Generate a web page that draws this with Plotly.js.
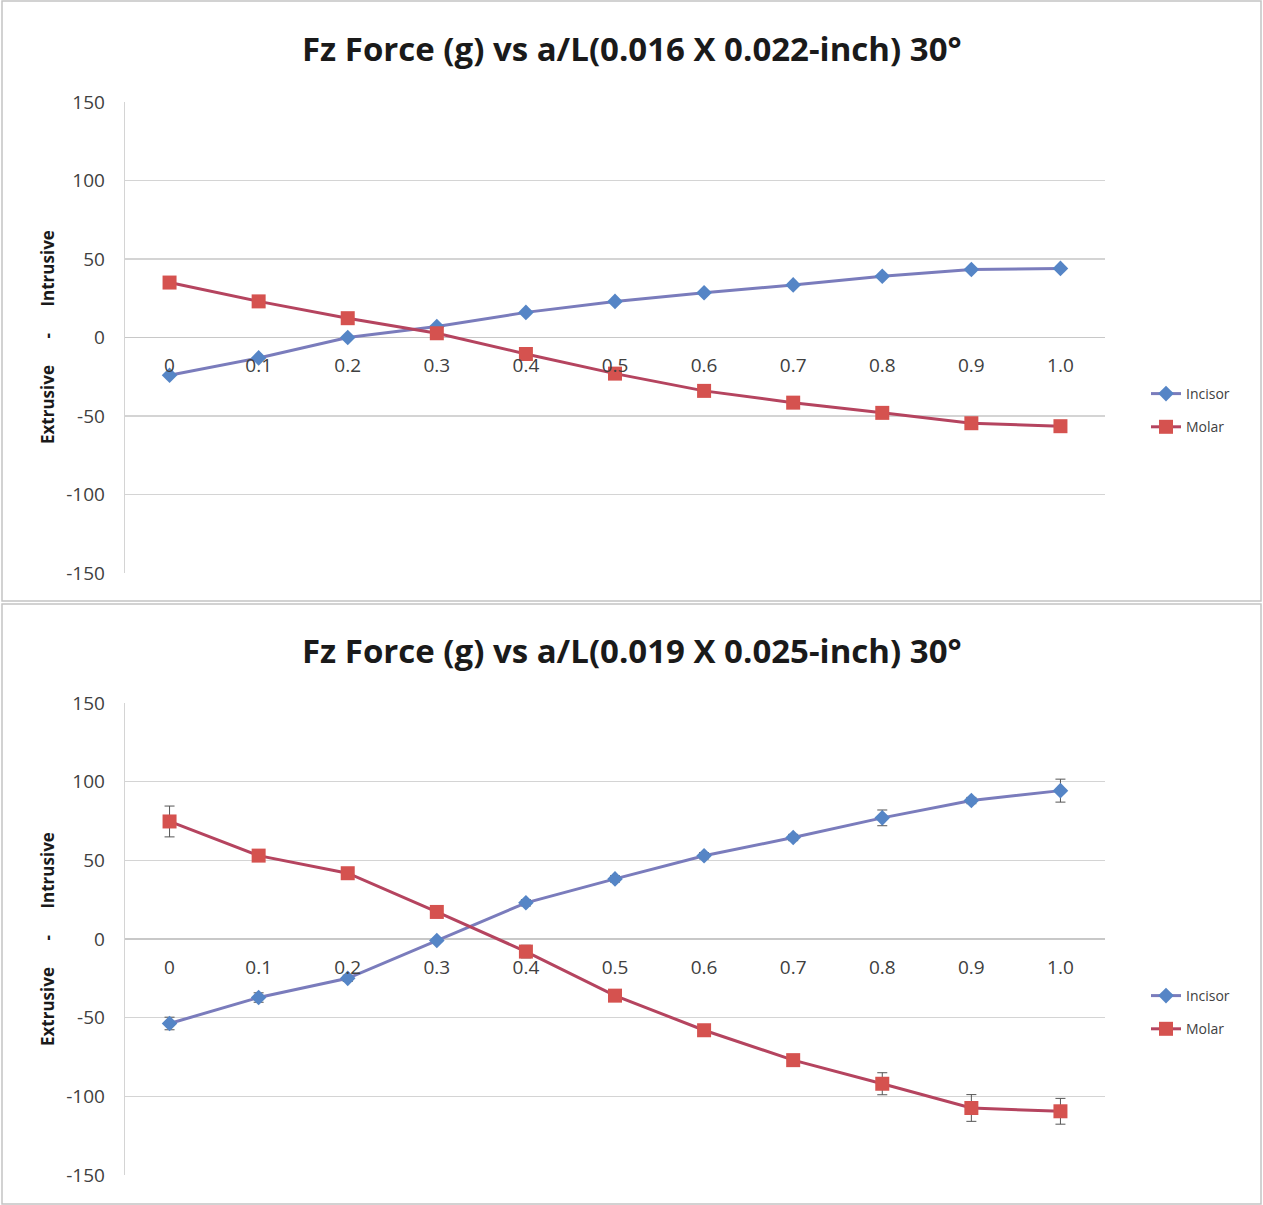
<!DOCTYPE html>
<html>
<head>
<meta charset="utf-8">
<script src="https://cdn.plot.ly/plotly-3.0.1.min.js"></script>
<style>html,body{margin:0;padding:0;background:#fff;}#chart{width:1263px;height:1205px;}</style>
</head>
<body>
<div id="chart"></div>
<script>
// Categories (a/L)
const categories = ["0", "0.1", "0.2", "0.3", "0.4", "0.5", "0.6", "0.7", "0.8", "0.9", "1.0"];

// Top chart: 0.016 X 0.022-inch
const topTitle = "Fz Force (g) vs a/L(0.016 X 0.022-inch) 30°";
const topIncisor = [-24, -13, 0, 7, 16, 23, 28.5, 33.5, 39, 43.3, 44];
const topMolar = [35, 23, 12.3, 2.7, -10.5, -23, -34, -41.5, -48, -54.6, -56.5];

// Bottom chart: 0.019 X 0.025-inch
const botTitle = "Fz Force (g) vs a/L(0.019 X 0.025-inch) 30°";
const botIncisor = [-53.7, -37.2, -25, -1, 23, 38.2, 52.9, 64.5, 77, 88, 94.3];
const botIncisorErr = [4, 3, 2, 1, 2, 2, 2, 2, 5, 2, 7.3];
const botMolar = [74.7, 53, 41.8, 17.2, -8, -36, -58, -77, -92, -107.4, -109.5];
const botMolarErr = [9.8, 3, 1.5, 1.5, 4, 1.5, 1.5, 1.5, 7, 8.5, 8.2];

const yTickVals = [-150, -100, -50, 0, 50, 100, 150];
const yAxisTitle = "Extrusive      -      Intrusive";
const seriesNames = ["Incisor", "Molar"];

const W = 1263, H = 1205;
const px = v => v / W;
const py = v => 1 - v / H;

const incLine = "#7a7cbc", incMark = "#5585c6";
const molLine = "#b5445f", molMark = "#d5524f";
const FONT = "'Open Sans', Lato, sans-serif";

function mk(y, err, name, xa, ya, leg, isInc) {
  return {
    type: "scatter", mode: "lines+markers",
    x: categories, y: y, name: name,
    xaxis: xa, yaxis: ya, legend: leg,
    legendgroup: leg + name,
    line: {color: isInc ? incLine : molLine, width: 3},
    marker: {symbol: isInc ? "diamond" : "square", size: isInc ? 12 : 14,
             color: isInc ? incMark : molMark, line: {width: 0}},
    error_y: err ? {type: "data", array: err, visible: true, color: "#555", thickness: 1, width: 5} : {visible: false}
  };
}

const traces = [
  mk(topIncisor, null, seriesNames[0], "x", "y", "legend", true),
  mk(topMolar, null, seriesNames[1], "x", "y", "legend", false),
  mk(botIncisor, botIncisorErr, seriesNames[0], "x2", "y2", "legend2", true),
  mk(botMolar, botMolarErr, seriesNames[1], "x2", "y2", "legend2", false)
];

function xax(pos) {
  return {
    type: "category", range: [-0.5, 10.5], domain: [px(125), px(1105)],
    anchor: "free", position: pos, showgrid: false, showline: false, zeroline: false,
    ticks: "", ticklabelstandoff: 15,
    tickfont: {family: FONT, size: 19, color: "#404040"}, fixedrange: true
  };
}
function yax(dom, anchorX) {
  return {
    range: [-150, 150], domain: dom, anchor: anchorX,
    tickvals: yTickVals, ticktext: yTickVals.map(String),
    showgrid: true, gridcolor: "#d4d4d4", gridwidth: 1.3,
    zeroline: true, zerolinecolor: "#c8c8c8", zerolinewidth: 1.3,
    showline: true, linecolor: "#d4d4d4", linewidth: 1.3,
    ticks: "", ticklabelstandoff: 15,
    tickfont: {family: FONT, size: 19, color: "#404040"}
  };
}

const legFont = {family: FONT, size: 14, color: "#404040"};
const layout = {
  width: W, height: H,
  margin: {l: 0, r: 0, t: 0, b: 0},
  paper_bgcolor: "#fff", plot_bgcolor: "rgba(0,0,0,0)",
  showlegend: true,
  xaxis: xax(py(337)),
  yaxis: yax([py(573), py(102)], "x"),
  xaxis2: xax(py(939)),
  yaxis2: yax([py(1175), py(703)], "x2"),
  legend: {x: px(1146), y: py(378), xanchor: "left", yanchor: "top",
           traceorder: "grouped", tracegroupgap: 12, itemwidth: 30,
           font: legFont, bgcolor: "rgba(0,0,0,0)"},
  legend2: {x: px(1146), y: py(980), xanchor: "left", yanchor: "top",
            traceorder: "grouped", tracegroupgap: 12, itemwidth: 30,
            font: legFont, bgcolor: "rgba(0,0,0,0)"},
  annotations: [
    {text: topTitle, xref: "paper", yref: "paper", x: px(632), y: py(49), xanchor: "center", yanchor: "middle",
     showarrow: false, font: {family: FONT, size: 33, color: "#1a1a1a", weight: 700}},
    {text: botTitle, xref: "paper", yref: "paper", x: px(632), y: py(650), xanchor: "center", yanchor: "middle",
     showarrow: false, font: {family: FONT, size: 33, color: "#1a1a1a", weight: 700}},
    {text: yAxisTitle, xref: "paper", yref: "paper", x: px(47), y: py(337), xanchor: "center", yanchor: "middle",
     textangle: -90, showarrow: false, font: {family: FONT, size: 17, color: "#1a1a1a", weight: 700}},
    {text: yAxisTitle, xref: "paper", yref: "paper", x: px(47), y: py(939), xanchor: "center", yanchor: "middle",
     textangle: -90, showarrow: false, font: {family: FONT, size: 17, color: "#1a1a1a", weight: 700}}
  ],
  shapes: [
    {type: "rect", xref: "paper", yref: "paper", x0: px(2), x1: px(1261), y0: py(601), y1: py(1),
     line: {color: "#c4c4c4", width: 1.5}, fillcolor: "rgba(0,0,0,0)", layer: "below"},
    {type: "rect", xref: "paper", yref: "paper", x0: px(2), x1: px(1261), y0: py(1204), y1: py(604),
     line: {color: "#c4c4c4", width: 1.5}, fillcolor: "rgba(0,0,0,0)", layer: "below"}
  ]
};

Plotly.newPlot("chart", traces, layout, {displayModeBar: false, staticPlot: true});
</script>
</body>
</html>
